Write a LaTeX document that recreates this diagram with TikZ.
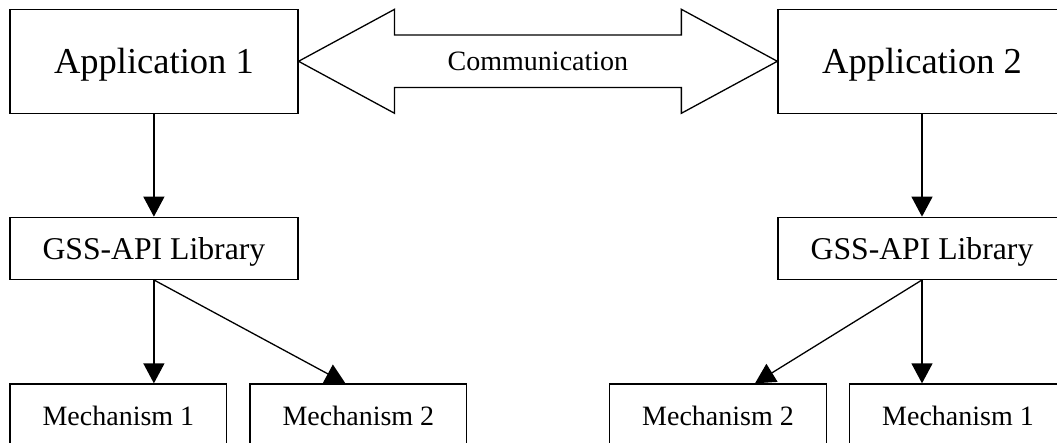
\documentclass[tikz,border=0pt]{standalone}
\usepackage{fontspec}
\setmainfont{Liberation Serif}
\usetikzlibrary{arrows.meta,calc}

\tikzset{
  box/.style={draw, line width=1.3pt, fill=white, inner sep=0pt, anchor=center, text depth=0pt},
  appbox/.style={box, minimum width=288pt, minimum height=104pt,
    font=\fontsize{36.5}{40}\selectfont},
  libbox/.style={box, minimum width=288pt, minimum height=62pt,
    font=\fontsize{31.7}{36}\selectfont},
  mechbox/.style={box, minimum width=216.7pt, minimum height=64pt,
    font=\fontsize{28}{32}\selectfont},
  flow/.style={line width=1.3pt, -{Triangle[length=20pt,width=21pt]}},
  bigarrow/.style={draw, line width=1.3pt, fill=white, line join=miter},
}

\begin{document}
\begin{tikzpicture}[x=1pt, y=-1pt]
  \useasboundingbox (0,0) rectangle (1057,443);
  \clip (0,0) rectangle (1057,443);

  % applications
  \node[appbox] (app1) at (153.9,61.3) {Application 1};
  \node[appbox] (app2) at (922,61.3)   {Application 2};

  % GSS-API libraries
  \node[libbox] (gss1) at (153.9,248.3) {GSS-API Library};
  \node[libbox] (gss2) at (922,248.3)   {GSS-API Library};

  % mechanisms
  \node[mechbox] (m1l) at (118.4,416) {Mechanism 1};
  \node[mechbox] (m2l) at (358.4,416) {Mechanism 2};
  \node[mechbox] (m2r) at (718,416)   {Mechanism 2};
  \node[mechbox] (m1r) at (958,416)   {Mechanism 1};

  % double-headed communication arrow between the applications
  \path[bigarrow]
    (app1.east)
    -- ($(app1.east)+(96,-52)$) -- ($(app1.east)+(96,-26.3)$)
    -- ($(app2.west)+(-96,-26.3)$) -- ($(app2.west)+(-96,-52)$)
    -- (app2.west)
    -- ($(app2.west)+(-96,52)$) -- ($(app2.west)+(-96,26.3)$)
    -- ($(app1.east)+(96,26.3)$) -- ($(app1.east)+(96,52)$)
    -- cycle;
  \node[font=\fontsize{28}{32}\selectfont] (comm) at ($(app1.east)!0.5!(app2.west)$) {Communication};

  % calls down the stacks
  \draw[flow] (app1.south) -- (gss1.north);
  \draw[flow] (app2.south) -- (gss2.north);

  \draw[flow] (gss1.south) -- (gss1.south |- m1l.north);
  \draw[flow] (gss1.south) -- ([xshift=-13pt]m2l.north);

  \draw[flow] (gss2.south) -- (gss2.south |- m1r.north);
  \draw[flow] (gss2.south) -- ([xshift=37pt]m2r.north);
\end{tikzpicture}
\end{document}
